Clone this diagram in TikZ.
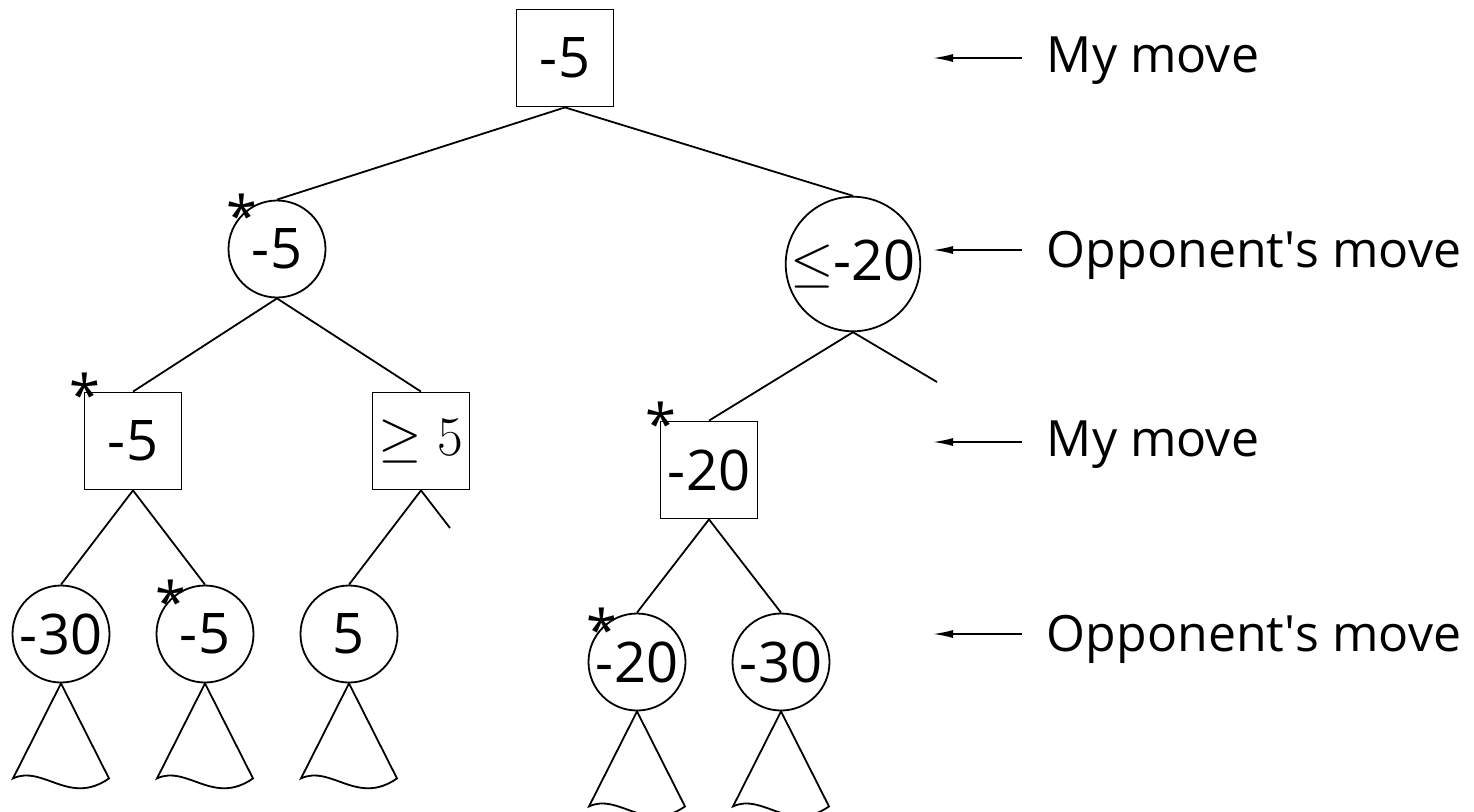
\documentclass[tikz,border=0pt]{standalone}
\usepackage{fix-cm}
\usepackage[no-math]{fontspec}
\setmainfont{Open Sans}
\usetikzlibrary{arrows.meta}

\begin{document}
\begin{tikzpicture}[x=0.5pt,y=-0.5pt,line width=0.9pt,
  mybox/.style={draw,rectangle,minimum size=48.5pt,inner sep=0pt,font=\fontsize{28}{30}\selectfont},
  oppcirc/.style={draw,circle,minimum size=48.5pt,inner sep=0pt,font=\fontsize{28}{30}\selectfont},
  bigcirc/.style={oppcirc,minimum size=62.5pt},
  bestmark/.style={inner sep=0pt,font=\fontsize{28}{30}\selectfont},
  movelabel/.style={anchor=base west,inner sep=0pt,font=\fontsize{25}{30}\selectfont},
  movearrow/.style={-{Latex[length=10pt,width=4pt]},line width=0.8pt,shorten <=12pt}]
\useasboundingbox (0,0) rectangle (1474,811);
% tree
\node[mybox] (root) at (565,58) {-5};
\node[oppcirc] (l) at (277,249) {-5};
\node[bigcirc] (r) at (853,264) {$\leq$-20};
\node[mybox] (ll) at (133,441) {-5};
\node[mybox] (lr) at (421,441) {$\geq 5$};
\node[mybox] (rl) at (709,470) {-20};
\node[oppcirc] (lll) at (61,634) {-30};
\node[oppcirc] (llr) at (205,634) {-5};
\node[oppcirc] (lrl) at (349,634) {5};
\node[oppcirc] (rll) at (637,662) {-20};
\node[oppcirc] (rlr) at (781,662) {-30};
\coordinate (rfree) at (937,382);
\coordinate (lrfree) at (450,528);
\draw (root.south) -- (l.north);
\draw (root.south) -- (r.north);
\draw (l.south) -- (ll.north);
\draw (l.south) -- (lr.north);
\draw (r.south) -- (rl.north);
\draw (r.south) -- (rfree);
\draw (ll.south) -- (lll.north);
\draw (ll.south) -- (llr.north);
\draw (lr.south) -- (lrl.north);
\draw (lr.south) -- (lrfree);
\draw (rl.south) -- (rll.north);
\draw (rl.south) -- (rlr.north);
% subtrees
\draw (lll.south) -- ++(-48,95) .. controls +(30,-14) and +(-40,28) .. ++(96,0) -- cycle;
\draw (llr.south) -- ++(-48,95) .. controls +(30,-14) and +(-40,28) .. ++(96,0) -- cycle;
\draw (lrl.south) -- ++(-48,95) .. controls +(30,-14) and +(-40,28) .. ++(96,0) -- cycle;
\draw (rll.south) -- ++(-48,95) .. controls +(30,-14) and +(-40,28) .. ++(96,0) -- cycle;
\draw (rlr.south) -- ++(-48,95) .. controls +(30,-14) and +(-40,28) .. ++(96,0) -- cycle;
% best moves
\node[bestmark] (s1) at (242,215) {*};
\node[bestmark] (s2) at (85,394) {*};
\node[bestmark] (s3) at (171,601) {*};
\node[bestmark] (s4) at (661,423) {*};
\node[bestmark] (s5) at (602,629) {*};
% levels
\node[movelabel] (m1) at (1046,72) {My move};
\node[movelabel] (m2) at (1046,267) {Opponent\textquotesingle s move};
\node[movelabel] (m3) at (1046,456) {My move};
\node[movelabel] (m4) at (1046,651) {Opponent\textquotesingle s move};
\coordinate (t1) at (933,58);
\coordinate (t2) at (933,250);
\coordinate (t3) at (933,442);
\coordinate (t4) at (933,634);
\draw[movearrow] (t1 -| m1.west) -- (t1);
\draw[movearrow] (t2 -| m2.west) -- (t2);
\draw[movearrow] (t3 -| m3.west) -- (t3);
\draw[movearrow] (t4 -| m4.west) -- (t4);
\end{tikzpicture}
\end{document}
